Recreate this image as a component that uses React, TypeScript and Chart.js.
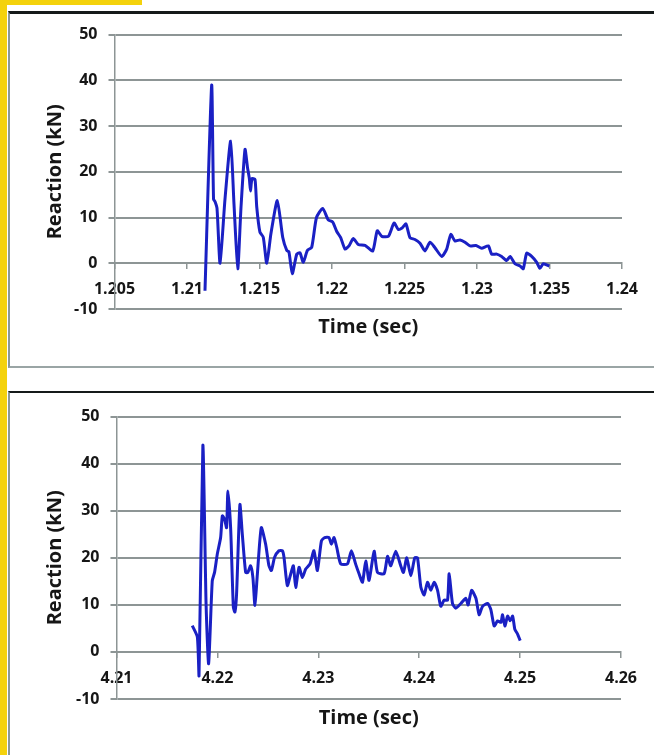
import React, { useEffect, useRef } from 'react';
import { Chart, registerables } from 'chart.js';

Chart.register(...registerables);

// ---------- data ----------
const Y_TICKS = [-10, 0, 10, 20, 30, 40, 50];
const TOP_X_TICKS = [1.205, 1.21, 1.215, 1.22, 1.225, 1.23, 1.235, 1.24];
const BOTTOM_X_TICKS = [4.21, 4.22, 4.23, 4.24, 4.25, 4.26];

const X_TITLE = 'Time (sec)';
const Y_TITLE = 'Reaction (kN)';

const TOP_TIME = [
  1.21124, 1.2117, 1.21183, 1.21193, 1.21207, 1.21228, 1.21262, 1.21301, 1.21324, 1.2135,
  1.21372, 1.214, 1.21417, 1.2143, 1.21438, 1.21448, 1.21469, 1.21481, 1.21503, 1.21526,
  1.2155, 1.21579, 1.21623, 1.2166, 1.21688, 1.21703, 1.21726, 1.21757, 1.21779, 1.21802,
  1.2183, 1.2186, 1.21893, 1.21936, 1.21974, 1.22005, 1.22032, 1.2206, 1.2209, 1.22117,
  1.22147, 1.22181, 1.22228, 1.22281, 1.22312, 1.22343, 1.22389, 1.22428, 1.22457, 1.22483,
  1.2251, 1.22538, 1.22572, 1.22607, 1.22641, 1.22676, 1.2271, 1.22757, 1.22791, 1.22819,
  1.22848, 1.22883, 1.22917, 1.22952, 1.22993, 1.23032, 1.23078, 1.23101, 1.23136, 1.2317,
  1.23205, 1.23228, 1.23262, 1.23297, 1.23319, 1.23343, 1.23377, 1.23412, 1.23434, 1.23457,
  1.23499,
];
const TOP_REACTION = [
  -6, 38.9, 14, 13.5, 12, 0, 14, 26.7, 13, -1.2,
  12, 24.9, 21, 18.5, 15.8, 18.5, 18.3, 12.3, 6.8, 5.7,
  0, 6.5, 13.7, 5.7, 2.8, 2.5, -2.3, 2.0, 2.3, 0.2,
  2.8, 3.5, 10, 12, 9.5, 9.0, 7.0, 5.6, 3.1, 3.8,
  5.4, 4.1, 3.9, 2.7, 7.1, 5.9, 5.9, 8.8, 7.4, 7.7,
  8.6, 5.6, 5.2, 4.4, 2.7, 4.6, 3.4, 1.5, 3.1, 6.3,
  4.9, 5.1, 4.6, 3.8, 3.9, 3.3, 3.8, 2.0, 2.0, 1.5,
  0.6, 1.5, -0.1, -0.6, -1.2, 2.2, 1.5, 0.2, -1.1, -0.1,
  -0.6,
];

const BOTTOM_TIME = [
  4.21751, 4.21801, 4.21818, 4.21856, 4.21888, 4.21913, 4.21949, 4.21972, 4.21999, 4.22032,
  4.22049, 4.22071, 4.22091, 4.22104, 4.22131, 4.22158, 4.22174, 4.2219, 4.22223, 4.22247,
  4.2228, 4.22302, 4.22329, 4.22352, 4.22372, 4.22396, 4.22435, 4.22478, 4.22511, 4.22535,
  4.22567, 4.2261, 4.22644, 4.2266, 4.22693, 4.22726, 4.22753, 4.22776, 4.22809, 4.22842,
  4.22875, 4.22918, 4.22957, 4.22991, 4.23031, 4.23063, 4.23106, 4.2313, 4.23156, 4.23183,
  4.23222, 4.23289, 4.23328, 4.23371, 4.23404, 4.23438, 4.2347, 4.23503, 4.23553, 4.23586,
  4.23652, 4.23686, 4.23718, 4.23768, 4.23817, 4.23844, 4.23877, 4.23917, 4.23956, 4.23983,
  4.24016, 4.24049, 4.24082, 4.24115, 4.24148, 4.24182, 4.24214, 4.24247, 4.24281, 4.24297,
  4.2433, 4.24363, 4.24413, 4.24462, 4.24485, 4.24519, 4.24562, 4.24594, 4.24628, 4.24678,
  4.2471, 4.24743, 4.24777, 4.2481, 4.24826, 4.24849, 4.24876, 4.24902, 4.24926, 4.24948,
  4.24975, 4.25001,
];
const BOTTOM_REACTION = [
  5.6, 3.2, -5, 43.9, 10, -2.5, 15.1, 16.9, 20.8, 24.3,
  28.9, 28.2, 26.4, 34.2, 26.4, 9.5, 8.5, 12.3, 31.3, 25,
  16.9, 16.9, 18.3, 15.8, 9.9, 16.5, 26.4, 22.9, 18.3, 17.3,
  20.1, 21.5, 21.5, 20.1, 14.1, 16.5, 18.3, 13.7, 18.0, 15.8,
  17.6, 18.7, 21.5, 17.3, 23.6, 24.3, 24.3, 22.9, 24.3, 22.2,
  18.7, 18.7, 21.5, 18.6, 16.6, 14.8, 19.3, 15.2, 21.4, 16.9,
  16.6, 20.3, 18.3, 21.4, 18.3, 16.9, 20, 16.2, 20, 20,
  13.8, 12.1, 14.8, 13.1, 14.8, 13.1, 9.7, 11.0, 11.0, 16.6,
  10.3, 9.3, 10.3, 11.4, 10.0, 13.1, 11.4, 7.9, 9.7, 10.3,
  9.0, 5.5, 6.6, 6.3, 7.9, 5.5, 7.6, 6.6, 7.6, 4.8,
  3.8, 2.4,
];

// ---------- styling ----------
const GRID = '#8d9595';
const LINE = '#1a20c4';
const TEXT = '#161616';
const FONT = "'Open Sans', 'DejaVu Sans', sans-serif";

type PanelOpts = {
  times: number[];
  values: number[];
  xTicks: number[];
  decimals: number;
  yWidth: number;
  pad: { top: number; right: number; bottom: number; left: number };
  xTitlePadTop: number;
};

function makeChart(canvas: HTMLCanvasElement, o: PanelOpts) {
  const data = o.times.map((t, i) => ({ x: t, y: o.values[i] }));
  return new Chart(canvas, {
    type: 'line',
    data: {
      datasets: [
        {
          data,
          borderColor: LINE,
          borderWidth: 3,
          pointRadius: 0,
          tension: 0.2,
          fill: false,
        },
      ],
    },
    options: {
      animation: false,
      responsive: false,
      maintainAspectRatio: false,
      layout: { padding: o.pad },
      plugins: {
        legend: { display: false },
        tooltip: { enabled: false },
        title: {
          display: true,
          text: X_TITLE,
          position: 'bottom',
          fullSize: false,
          color: TEXT,
          font: { family: FONT, size: 20, weight: 'bold' },
          padding: { top: o.xTitlePadTop, bottom: 0 },
        },
      },
      scales: {
        x: {
          type: 'linear',
          position: { y: 0 } as any,
          min: o.xTicks[0],
          max: o.xTicks[o.xTicks.length - 1],
          afterBuildTicks: (s: any) => {
            s.ticks = o.xTicks.map((v) => ({ value: v }));
          },
          ticks: {
            color: TEXT,
            padding: 12,
            maxRotation: 0,
            autoSkip: false,
            font: { family: FONT, size: 16, weight: 'bold' },
            callback: (v: any) => String(+Number(v).toFixed(o.decimals)),
          },
          grid: {
            drawOnChartArea: false,
            drawTicks: true,
            tickLength: 5,
            color: GRID,
            lineWidth: 1.5,
          },
          border: { display: true, color: GRID, width: 2 },
        },
        y: {
          type: 'linear',
          position: 'left',
          min: Y_TICKS[0],
          max: Y_TICKS[Y_TICKS.length - 1],
          afterBuildTicks: (s: any) => {
            s.ticks = Y_TICKS.map((v) => ({ value: v }));
          },
          afterFit: (s: any) => {
            s.width = o.yWidth;
          },
          ticks: {
            color: TEXT,
            padding: 11,
            font: { family: FONT, size: 16, weight: 'bold' },
            callback: (v: any) => String(v),
          },
          grid: {
            color: GRID,
            lineWidth: 2,
            drawTicks: true,
            tickLength: 6,
          },
          border: { display: true, color: GRID, width: 1.5 },
          title: {
            display: true,
            text: Y_TITLE,
            color: TEXT,
            font: { family: FONT, size: 20, weight: 'bold' },
            padding: { top: 33, bottom: 0 },
          },
        },
      },
    },
  });
}

export default function App() {
  const topRef = useRef<HTMLCanvasElement | null>(null);
  const bottomRef = useRef<HTMLCanvasElement | null>(null);

  useEffect(() => {
    document.body.style.margin = '0';
    const c1 = makeChart(topRef.current!, {
      times: TOP_TIME,
      values: TOP_REACTION,
      xTicks: TOP_X_TICKS,
      decimals: 3,
      yWidth: 104.5,
      pad: { top: 20, right: 32, bottom: 25, left: 0 },
      xTitlePadTop: 6,
    });
    const c2 = makeChart(bottomRef.current!, {
      times: BOTTOM_TIME,
      values: BOTTOM_REACTION,
      xTicks: BOTTOM_X_TICKS,
      decimals: 2,
      yWidth: 106.5,
      pad: { top: 19.5, right: 33, bottom: 25, left: 0 },
      xTitlePadTop: 7,
    });
    return () => {
      c1.destroy();
      c2.destroy();
    };
  }, []);

  return (
    <div
      style={{
        position: 'relative',
        width: 654,
        height: 755,
        overflow: 'hidden',
        background: '#ffffff',
      }}
    >
      {/* yellow frame pieces */}
      <div style={{ position: 'absolute', left: 0, top: 0, width: 7, height: 755, background: '#f4d20c' }} />
      <div style={{ position: 'absolute', left: 0, top: 0, width: 142, height: 5, background: '#f4d20c' }} />
      {/* panel 1 frame */}
      <div
        style={{
          position: 'absolute',
          left: 8,
          top: 11,
          width: 700,
          height: 352,
          borderTop: '3px solid #151a1a',
          borderLeft: '2px solid #8a9898',
          borderBottom: '2px solid #9aa5a5',
          boxSizing: 'content-box',
        }}
      />
      {/* panel 2 frame */}
      <div
        style={{
          position: 'absolute',
          left: 8,
          top: 391,
          width: 700,
          height: 400,
          borderTop: '2px solid #151a1a',
          borderLeft: '2px solid #8a9898',
        }}
      />
      <canvas
        ref={topRef}
        width={644}
        height={350}
        style={{ position: 'absolute', left: 10, top: 14, width: 644, height: 350 }}
      />
      <canvas
        ref={bottomRef}
        width={644}
        height={359}
        style={{ position: 'absolute', left: 10, top: 396, width: 644, height: 359 }}
      />
    </div>
  );
}
